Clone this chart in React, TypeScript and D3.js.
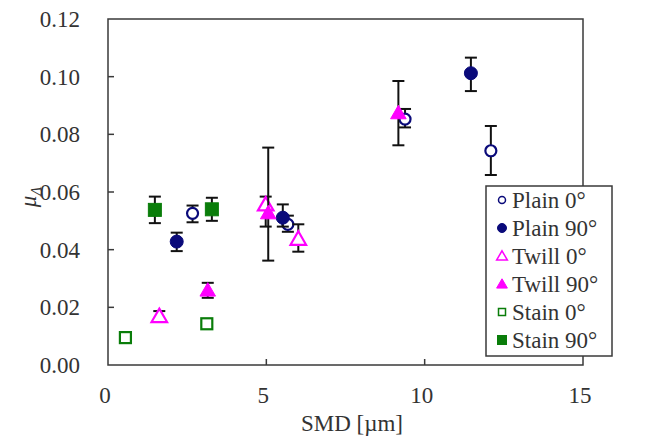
import React from "react";
import * as d3 from "d3";

// SMD [um], mu, upper and lower error bar ends
const plain0X = [2.67, 5.68, 9.38, 12.09];
const plain0Y = [0.0526, 0.0488, 0.0853, 0.0743];
const plain0Hi = [0.0553, 0.0518, 0.0888, 0.0829];
const plain0Lo = [0.0495, 0.0462, 0.0824, 0.0659];

const plain90X = [2.17, 5.52, 11.46];
const plain90Y = [0.0428, 0.0511, 0.1012];
const plain90Hi = [0.0459, 0.0557, 0.1066];
const plain90Lo = [0.0395, 0.048, 0.095];

const twill0X = [1.62, 4.98, 6.01];
const twill0Y = [0.0168, 0.0555, 0.0436];
const twill0Hi = [0.0187, 0.0584, 0.0488];
const twill0Lo = [0.015, 0.048, 0.0393];

const twill90X = [3.15, 5.06, 9.17];
const twill90Y = [0.0258, 0.0526, 0.0873];
const twill90Hi = [0.0285, 0.0754, 0.0985];
const twill90Lo = [0.0233, 0.0362, 0.0762];

const stain0X = [0.55, 3.12];
const stain0Y = [0.0095, 0.0143];

const stain90X = [1.48, 3.28];
const stain90Y = [0.0538, 0.054];
const stain90Hi = [0.0584, 0.058];
const stain90Lo = [0.0492, 0.05];

const xTicks = [0, 5, 10, 15];
const yTicks = [0, 0.02, 0.04, 0.06, 0.08, 0.1, 0.12];

const NAVY = "#0a0a7a";
const MAGENTA = "#ff00ff";
const GREEN = "#0a7d0a";

type Shape = "circle" | "triangle" | "square";
interface Series {
  name: string;
  shape: Shape;
  filled: boolean;
  color: string;
  x: number[];
  y: number[];
  hi?: number[];
  lo?: number[];
}

const series: Series[] = [
  { name: "Plain 0°", shape: "circle", filled: false, color: NAVY, x: plain0X, y: plain0Y, hi: plain0Hi, lo: plain0Lo },
  { name: "Plain 90°", shape: "circle", filled: true, color: NAVY, x: plain90X, y: plain90Y, hi: plain90Hi, lo: plain90Lo },
  { name: "Twill 0°", shape: "triangle", filled: false, color: MAGENTA, x: twill0X, y: twill0Y, hi: twill0Hi, lo: twill0Lo },
  { name: "Twill 90°", shape: "triangle", filled: true, color: MAGENTA, x: twill90X, y: twill90Y, hi: twill90Hi, lo: twill90Lo },
  { name: "Stain 0°", shape: "square", filled: false, color: GREEN, x: stain0X, y: stain0Y },
  { name: "Stain 90°", shape: "square", filled: true, color: GREEN, x: stain90X, y: stain90Y, hi: stain90Hi, lo: stain90Lo },
];

const left = 108, right = 583, top = 19, bottom = 365;
const FONT = "'Liberation Serif', 'Times New Roman', serif";

function Marker({ shape, filled, color, cx, cy, size }: { shape: Shape; filled: boolean; color: string; cx: number; cy: number; size: number }) {
  const sw = filled ? 1 : size > 10 ? 2.2 : 1.5;
  const fill = filled ? color : "white";
  if (shape === "circle") {
    return <circle cx={cx} cy={cy} r={size / 2 - (filled ? 0 : 1)} fill={fill} stroke={color} strokeWidth={sw} />;
  }
  if (shape === "square") {
    const s = size - (filled ? 0 : 2);
    return <rect x={cx - s / 2} y={cy - s / 2} width={s} height={s} fill={fill} stroke={color} strokeWidth={sw} />;
  }
  const tri = d3.symbol(d3.symbolTriangle, (size * size) * 0.62)();
  return <path d={tri || ""} transform={`translate(${cx},${cy + 1})`} fill={fill} stroke={color} strokeWidth={sw} strokeLinejoin="miter" />;
}

export default function App() {
  const x = d3.scaleLinear().domain([0, 15]).range([left, right]);
  const y = d3.scaleLinear().domain([0, 0.12]).range([bottom, top]);
  const cap = 6;

  return (
    <svg width={650} height={439} style={{ position: "absolute", left: 0, top: 0, background: "white" }} fontFamily={FONT}>
      <rect x={0} y={0} width={650} height={439} fill="white" />
      {/* frame */}
      <rect x={left} y={top} width={right - left} height={bottom - top} fill="none" stroke="#3a3a3a" strokeWidth={1.5} />
      {yTicks.map((t) => (
        <g key={"y" + t}>
          {t > 0 && t < 0.12 && <line x1={left} x2={left + 6} y1={y(t)} y2={y(t)} stroke="#3a3a3a" strokeWidth={1.5} />}
          <text x={80} y={y(t) + 8} textAnchor="end" fontSize={23} fill="#333">{t.toFixed(2)}</text>
        </g>
      ))}
      {xTicks.map((t) => (
        <g key={"x" + t}>
          {t > 0 && t < 15 && <line x1={x(t)} x2={x(t)} y1={bottom} y2={bottom - 6} stroke="#3a3a3a" strokeWidth={1.5} />}
          <text x={x(t) - 3} y={403} textAnchor="middle" fontSize={23} fill="#333">{t}</text>
        </g>
      ))}
      <text x={352} y={431} textAnchor="middle" fontSize={23} fill="#333">SMD [µm]</text>
      <text transform="translate(36,197) rotate(-90)" textAnchor="middle" fontSize={23} fill="#333" fontStyle="italic">
        μ<tspan fontSize={15} dy={5}>Λ</tspan>
      </text>

      {series.map((s) => (
        <g key={s.name}>
          {s.hi && s.lo && s.x.map((xv, i) => (
            <g key={i} stroke="#111" strokeWidth={2}>
              <line x1={x(xv)} x2={x(xv)} y1={y(s.hi![i])} y2={y(s.lo![i])} />
              <line x1={x(xv) - cap} x2={x(xv) + cap} y1={y(s.hi![i])} y2={y(s.hi![i])} />
              <line x1={x(xv) - cap} x2={x(xv) + cap} y1={y(s.lo![i])} y2={y(s.lo![i])} />
            </g>
          ))}
          {s.x.map((xv, i) => (
            <Marker key={i} shape={s.shape} filled={s.filled} color={s.color} cx={x(xv)} cy={y(s.y[i])} size={13} />
          ))}
        </g>
      ))}

      {/* legend */}
      <g>
        <rect x={486} y={186} width={126} height={170} fill="white" stroke="#3a3a3a" strokeWidth={1.5} />
        {series.map((s, i) => (
          <g key={s.name} transform={`translate(0,${200 + i * 28})`}>
            <Marker shape={s.shape} filled={s.filled} color={s.color} cx={502} cy={0} size={9} />
            <text x={512} y={8} fontSize={23} fill="#333">{s.name}</text>
          </g>
        ))}
      </g>
    </svg>
  );
}
